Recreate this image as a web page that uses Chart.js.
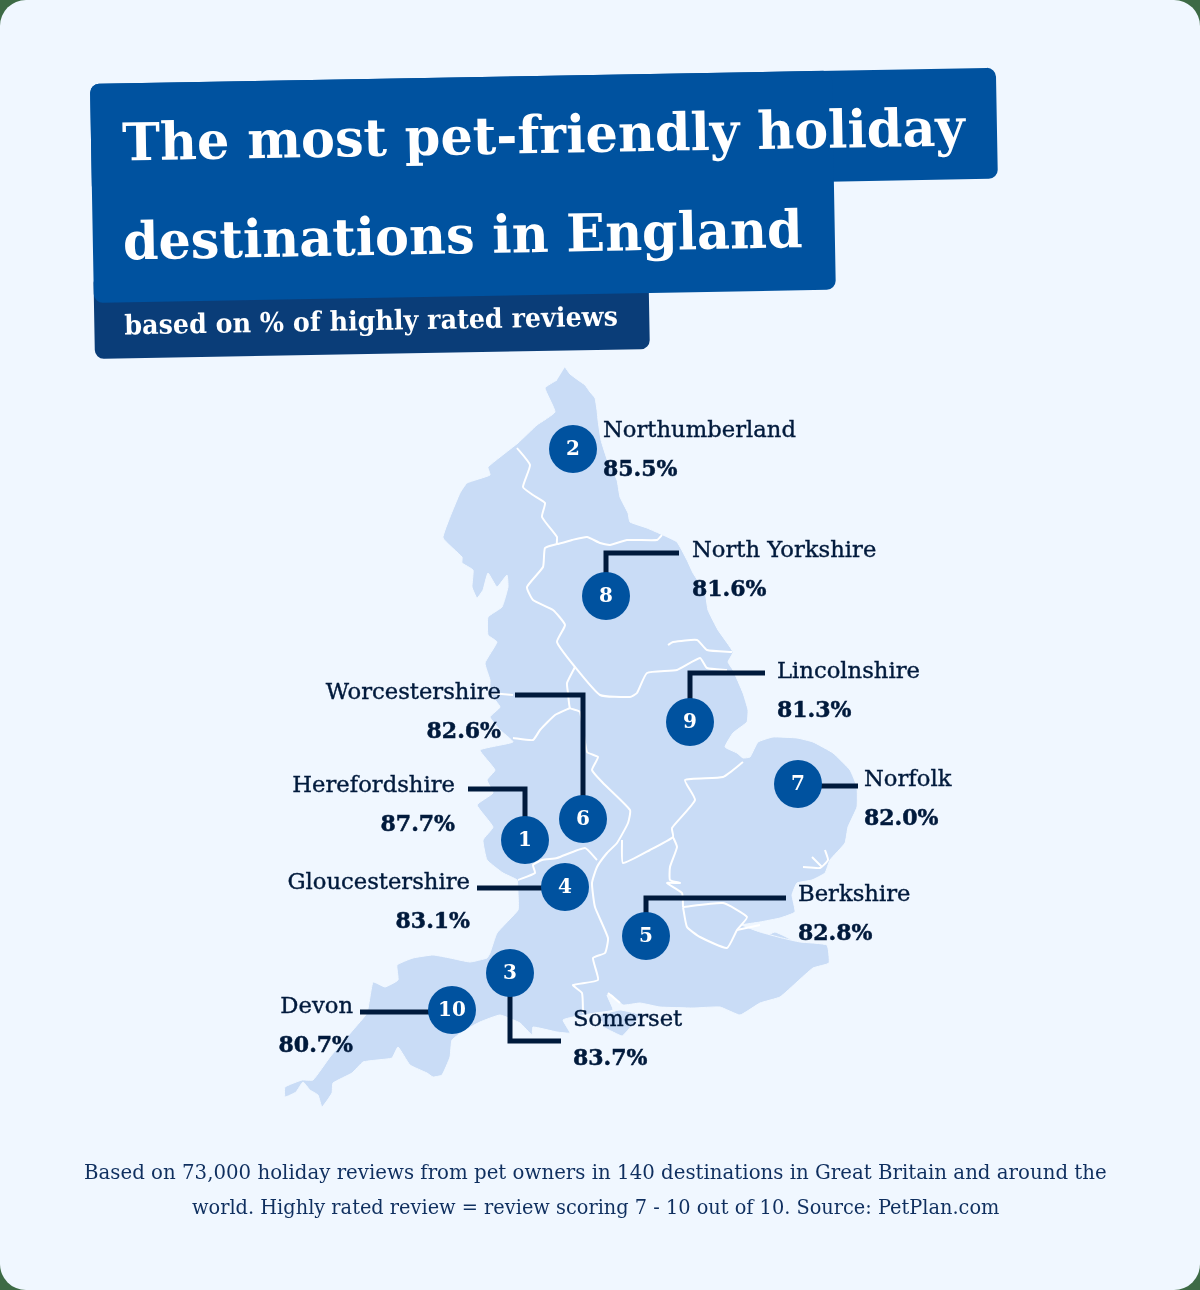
<!DOCTYPE html>
<html><head><meta charset="utf-8">
<script src="https://cdn.jsdelivr.net/npm/chart.js@4/dist/chart.umd.js"></script>
<style>
html,body{margin:0;padding:0;background:#3d6a45;width:1200px;height:1290px;overflow:hidden}
#panel{position:absolute;left:0;top:0;width:1200px;height:1290px;background:#f0f7ff;border-radius:26px;overflow:hidden}
#c{position:absolute;left:0;top:0}
#bannerBg{position:absolute;left:0;top:0}
#banner{position:absolute;left:90px;top:84px;width:0;height:0;transform:rotate(-1.03deg);transform-origin:0 0}
.t{position:absolute;white-space:nowrap;line-height:1;font-family:"DejaVu Serif",serif;color:#fff}
.f{position:absolute;white-space:nowrap;line-height:1;font-family:"DejaVu Serif",serif;color:#0f2f5f;font-size:20px}
</style></head>
<body>
<div id="panel">
<canvas id="c" width="1200" height="1290"></canvas>
<svg id="bannerBg" width="1200" height="400" xmlns="http://www.w3.org/2000/svg">
  <g transform="translate(90 84) rotate(-1.03)">
    <rect x="0" y="190" width="555" height="85" rx="9" fill="#0a3d78"/>
    <rect x="0" y="0" width="906" height="111" rx="9" fill="#00529f"/>
    <rect x="0" y="0" width="742" height="219" rx="9" fill="#00529f"/>
  </g>
</svg>
<div id="banner">
  <div class="t" data-w="843" style="left:31px;top:33px;font-size:52px;font-weight:700">The most pet-friendly holiday</div>
  <div class="t" data-w="680" style="left:30px;top:132px;font-size:52px;font-weight:700">destinations in England</div>
  <div class="t" data-w="494" style="left:30px;top:228px;font-size:27px;font-weight:700">based on % of highly rated reviews</div>
</div>
<div class="f" data-w="1023" style="left:84px;top:1162px">Based on 73,000 holiday reviews from pet owners in 140 destinations in Great Britain and around the</div>
<div class="f" data-w="807" style="left:192px;top:1197px">world. Highly rated review = review scoring 7 - 10 out of 10. Source: PetPlan.com</div>
</div>
<script>
// ---- ranking data ----
const destinations=["Herefordshire","Northumberland","Somerset","Gloucestershire","Berkshire","Worcestershire","Norfolk","North Yorkshire","Lincolnshire","Devon"];
const ranks=[1,2,3,4,5,6,7,8,9,10];
const scores=[87.7,85.5,83.7,83.1,82.8,82.6,82.0,81.6,81.3,80.7];
const pinX=[525,573,510,565,646,583,798,606,690,452];
const pinY=[840,449,973,887,936,819,784,596,722,1010];

// ---- England outline (map coordinates) ----
const coast=[[565,367],[570,374],[578,380],[585,385],[590,392],[595,398],[597,410],[598,420],[601,440],[608,462],[617,480],[620,497],[628,513],[630,522],[647,528],[663,535],[677,542],[687,560],[693,573],[705,592],[708,610],[718,630],[733,652],[728,662],[733,670],[743,693],[748,710],[747,722],[733,733],[725,747],[737,753],[743,758],[750,757],[758,742],[773,737],[797,738],[813,742],[833,753],[850,770],[857,787],[857,807],[848,827],[845,843],[830,860],[825,873],[812,880],[797,883],[792,895],[795,912],[780,918],[760,922],[742,925],[760,932],[782,938],[800,942],[827,945],[829,963],[813,968],[797,982],[780,997],[760,1003],[740,1015],[720,1007],[693,1008],[660,1007],[640,1003],[623,1005],[612,995],[607,995],[613,1010],[595,1013],[573,1017],[563,1020],[570,1033],[557,1032],[533,1027],[532,1035],[520,1023],[500,1015],[480,1022],[465,1030],[452,1040],[450,1057],[442,1075],[433,1077],[427,1073],[410,1065],[398,1047],[392,1058],[377,1060],[363,1062],[352,1073],[333,1083],[332,1093],[322,1107],[318,1095],[310,1090],[303,1082],[296,1092],[285,1097],[285,1087],[302,1080],[313,1080],[330,1057],[353,1030],[367,1013],[373,982],[385,987],[398,980],[397,965],[413,958],[433,955],[450,958],[470,962],[487,958],[490,953],[497,933],[518,910],[518,893],[517,880],[503,873],[487,860],[483,840],[493,827],[477,805],[493,793],[487,780],[495,770],[480,750],[513,742],[500,730],[490,717],[500,707],[490,693],[490,680],[485,663],[497,642],[488,635],[488,617],[502,607],[508,587],[507,575],[497,587],[488,573],[483,590],[477,598],[472,587],[473,570],[462,563],[462,557],[443,538],[450,517],[460,493],[467,483],[490,475],[488,467],[518,443],[537,425],[555,412],[545,388],[557,380]];
const isleOfWight=[[600,1015],[620,1010],[640,1015],[628,1030],[622,1036],[605,1028]];
const sheppey=[[763,938],[775,932],[795,942],[780,946]];

// ---- region borders ----
const borderNorth=[[517,448],[530,465],[523,487],[533,495],[545,503],[542,517],[557,537],[557,544],[572,540],[587,537],[600,543],[610,545],[627,540],[657,540],[662,535]];
const borderYorkshire=[[557,544],[545,548],[543,567],[527,587],[533,600],[553,610],[565,625],[557,642],[575,667],[600,695],[630,697],[637,693],[647,673],[677,670],[700,658],[707,668],[727,670]];
const borderMidlandsWest=[[575,667],[567,683],[568,693],[570,708],[580,712],[587,752],[598,757],[592,770],[603,783],[630,810],[628,823],[617,843],[607,853],[597,867],[592,883],[595,907],[608,938],[605,953],[593,958],[598,980],[573,985],[582,993],[583,1013]];
const borderNorthWest=[[570,708],[555,715],[540,730],[533,740],[513,738]];
const borderWales=[[597,860],[585,848],[557,858],[542,860],[533,865],[535,873],[518,880]];
const borderEast=[[622,840],[623,863],[650,850],[673,837],[672,828],[695,800],[685,780],[723,777],[743,762]];
const borderHome=[[673,837],[677,847],[670,867],[670,880],[680,883],[667,883],[682,893],[683,907]];
const borderLondon=[[683,907],[723,903],[747,917],[737,930],[727,948],[700,937],[687,927],[683,907]];
const borderThames=[[737,930],[760,925]];
const inletHumber=[[668,645],[673,642],[697,640],[707,650],[732,652]];
const inletMersey=[[490,693],[513,695]];
const inletSuffolkA=[[825,850],[828,860],[820,868],[803,867]];
const inletSuffolkB=[[812,857],[822,867]];
const inletSolent=[[608,993],[620,1003]];
const borders=[borderNorth,borderYorkshire,borderMidlandsWest,borderNorthWest,borderWales,borderEast,borderHome,borderLondon,borderThames,inletHumber,inletMersey,inletSuffolkA,inletSuffolkB,inletSolent];

// ---- leader lines from each pin to its caption ----
const leaders=[[[468,789],[525,789],[525,840]],[],[[510,973],[510,1041],[561,1041]],[[477,888],[565,888]],[[646,936],[646,898],[786,898]],[[583,819],[583,695],[515,695]],[[798,786],[858,786]],[[606,596],[606,553],[679,553]],[[690,722],[690,673],[765,673]],[[360,1012],[452,1012]]];

// caption anchor (x, baseline of first line) and alignment
const captionX=[455,603,573,470,798,501,864,692,777,353];
const captionY=[792,437,1026,889,901,699,786,557,678,1013];
const captionAlign=["right","left","left","right","left","right","left","left","left","right"];

const pts=a=>a.map(p=>({x:p[0],y:p[1]}));
const land="#c9dcf6";
const datasets=[];
[coast,isleOfWight,sheppey].forEach(a=>datasets.push({data:pts(a),showLine:true,fill:'shape',backgroundColor:land,borderColor:"#f0f7ff",borderWidth:1,pointRadius:0,tension:0.12,order:10}));
borders.forEach(a=>datasets.push({data:pts(a),showLine:true,fill:false,borderColor:"#ffffff",borderWidth:2,pointRadius:0,tension:0.15,order:5}));
leaders.filter(a=>a.length).forEach(a=>datasets.push({data:pts(a),showLine:true,fill:false,borderColor:"#001a3c",borderWidth:5,pointRadius:0,borderJoinStyle:"miter",order:3}));
datasets.push({data:pinX.map((x,i)=>({x,y:pinY[i]})),showLine:false,pointRadius:24,pointBackgroundColor:"#00529f",pointBorderWidth:0,order:1});

const captions={id:"captions",afterDatasetsDraw(ch){
  const {ctx,scales:{x,y}}=ch;
  ctx.save();
  ctx.textBaseline="alphabetic";
  destinations.forEach((name,i)=>{
    const px=x.getPixelForValue(captionX[i]),py=y.getPixelForValue(captionY[i]);
    ctx.textAlign=captionAlign[i];ctx.fillStyle="#001a3c";ctx.strokeStyle="#001a3c";
    ctx.font='400 22.7px "DejaVu Serif"';ctx.lineWidth=0.4;
    ctx.fillText(name,px,py);ctx.strokeText(name,px,py);
    const pct=scores[i].toFixed(1)+"%";
    ctx.font='700 22px "DejaVu Serif"';ctx.lineWidth=0.5;
    ctx.fillText(pct,px,py+39);ctx.strokeText(pct,px,py+39);
  });
  const m=ch.getDatasetMeta(ch.data.datasets.length-1);
  m.data.forEach((pt,i)=>{
    ctx.font='700 20px "DejaVu Serif"';ctx.textAlign="center";ctx.textBaseline="middle";
    ctx.fillStyle="#fff";ctx.fillText(String(ranks[i]),pt.x,pt.y+1);
  });
  ctx.restore();
}};

new Chart(document.getElementById("c"),{type:"scatter",data:{datasets},plugins:[captions],options:{
  responsive:false,animation:false,events:[],
  layout:{padding:0,autoPadding:false},
  plugins:{legend:{display:false},tooltip:{enabled:false},title:{display:false}},
  scales:{x:{type:"linear",min:0,max:1200,display:false},y:{type:"linear",min:0,max:1290,reverse:true,display:false}}
}});

document.querySelectorAll(".t,.f").forEach(e=>{const w=+e.dataset.w;e.style.transformOrigin="0 0";e.style.transform="scaleX("+(w/e.offsetWidth)+")";});
</script>
</body></html>
